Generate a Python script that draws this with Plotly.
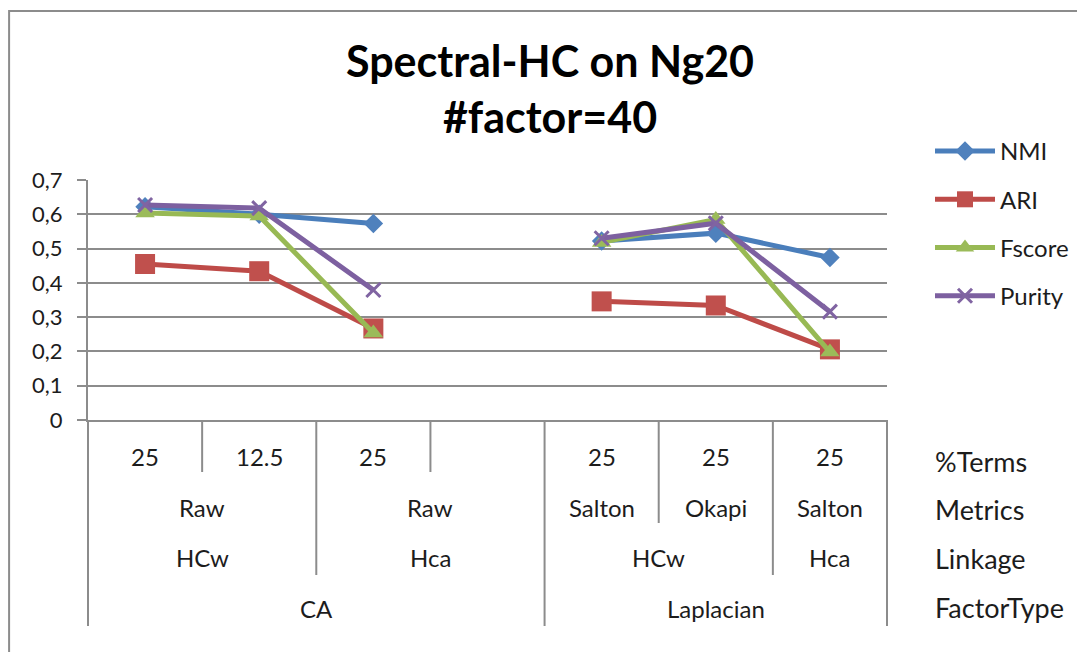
import plotly.graph_objects as go

# ---------------- data ----------------
terms   = ["25", "12.5", "25", "", "25", "25", "25"]
metrics = ["Raw", "Raw", "Raw", "Raw", "Salton", "Okapi", "Salton"]
linkage = ["HCw", "HCw", "Hca", "Hca", "HCw", "HCw", "Hca"]
factor  = ["CA", "CA", "CA", "CA", "Laplacian", "Laplacian", "Laplacian"]
level_names = ["%Terms", "Metrics", "Linkage", "FactorType"]

NMI    = [0.622, 0.600, 0.573, None, 0.522, 0.545, 0.474]
ARI    = [0.455, 0.434, 0.267, None, 0.346, 0.334, 0.206]
Fscore = [0.604, 0.595, 0.254, None, 0.518, 0.585, 0.198]
Purity = [0.627, 0.618, 0.379, None, 0.530, 0.574, 0.316]

y_ticks = [0, 0.1, 0.2, 0.3, 0.4, 0.5, 0.6, 0.7]

# ---------------- styling ----------------
OFF = 8                      # page body margin
W, H = 1085 - OFF, 652 - OFF
ML = 88 - OFF
MT = 180 - OFF
MR = W - (888 - OFF)
MB = H - (420 - OFF)
PW, PH = W - ML - MR, H - MT - MB
GRID = "#8c8c8c"
TXT = "#1c1c1c"
FONT = "Lato"

def py(sy):
    """screen y -> paper y"""
    return (H - MB - (sy - OFF)) / PH

def px(sx):
    """screen x -> paper x"""
    return (sx - OFF - ML) / PW

series = [
    ("NMI", NMI, "#4A7EBB", "#4F81BD", "diamond", 15),
    ("ARI", ARI, "#BE4B48", "#C0504D", "square", 20),
    ("Fscore", Fscore, "#98B954", "#9BBB59", "triangle-up", 17),
    ("Purity", Purity, "#7D60A0", "#8064A2", "x-thin", 14),
]

n = len(terms)
xs = list(range(n))

fig = go.Figure()
for name, vals, lc, mc, sym, size in series:
    marker = dict(symbol=sym, size=size, color=mc)
    if sym == "x-thin":
        marker["line"] = dict(color=mc, width=3)
    fig.add_trace(go.Scatter(
        x=xs, y=vals, name=name, mode="lines+markers",
        line=dict(color=lc, width=5), marker=marker,
        connectgaps=False, legendgroup=name, cliponaxis=False,
    ))

# ---------------- hierarchical category axis ----------------
levels = [terms, metrics, linkage, factor]
label_y = [456, 507, 557, 608]
depth_y = [472, 523, 575, 626]
shapes = []
annotations = []

for lev in range(4):
    keys = [tuple(levels[k][i] for k in range(lev, 4)) for i in range(n)]
    start = 0
    for i in range(1, n + 1):
        if i == n or keys[i] != keys[start]:
            text = levels[lev][start]
            if text:
                annotations.append(dict(
                    x=(start + i - 1) / 2, xref="x", y=py(label_y[lev]), yref="paper",
                    text=text, showarrow=False, xanchor="center", yanchor="middle",
                    font=dict(family=FONT, size=24, color=TXT)))
            start = i

for b in range(-1, n):
    if b == -1 or b == n - 1:
        lev = 3
    else:
        lev = 0
        for k in range(3, -1, -1):
            if tuple(levels[j][b] for j in range(k, 4)) != tuple(levels[j][b + 1] for j in range(k, 4)):
                lev = k
                break
    xp = (b + 1) / n
    shapes.append(dict(type="line", xref="paper", yref="paper",
                       x0=xp, x1=xp, y0=0, y1=py(depth_y[lev]),
                       line=dict(color=GRID, width=2)))

for lev, name in enumerate(level_names):
    annotations.append(dict(
        x=px(934), xref="paper", y=py([461, 509, 558, 607][lev]), yref="paper",
        text=name, showarrow=False, xanchor="left", yanchor="middle",
        font=dict(family=FONT, size=27, color=TXT)))

# chart frame
shapes.append(dict(type="rect", xref="paper", yref="paper",
                   x0=px(9), x1=px(1100), y0=py(11), y1=py(680),
                   line=dict(color=GRID, width=2), layer="below"))

fig.update_layout(
    width=W, height=H,
    margin=dict(l=ML, r=MR, t=MT, b=MB),
    paper_bgcolor="white", plot_bgcolor="white",
    title=dict(text="Spectral-HC on Ng20<br>#factor=40",
               x=(550 - OFF) / W, xanchor="center", xref="container",
               y=1 - (77 - OFF) / H, yanchor="middle", yref="container",
               font=dict(family=FONT, size=43, color="#000000", weight="bold")),
    xaxis=dict(range=[-0.5, n - 0.5], showgrid=False, zeroline=False,
               showline=True, linecolor=GRID, linewidth=2,
               showticklabels=False, ticks=""),
    yaxis=dict(range=[0, 0.7], tickvals=y_ticks,
               ticktext=["0" if v == 0 else f"{v:.1f}".replace(".", ",") for v in y_ticks],
               showgrid=True, gridcolor=GRID, gridwidth=2, zeroline=False,
               showline=True, linecolor=GRID, linewidth=2,
               ticks="outside", ticklen=9, tickcolor=GRID, tickwidth=2,
               ticklabelstandoff=10,
               tickfont=dict(family=FONT, size=22, color=TXT)),
    legend=dict(x=px(930), xanchor="left", y=py(129), yanchor="top",
                font=dict(family=FONT, size=24, color=TXT),
                traceorder="grouped", tracegroupgap=14, itemwidth=60,
                bgcolor="rgba(0,0,0,0)"),
    shapes=shapes,
    annotations=annotations,
    showlegend=True,
)

fig.write_html("out.html")
